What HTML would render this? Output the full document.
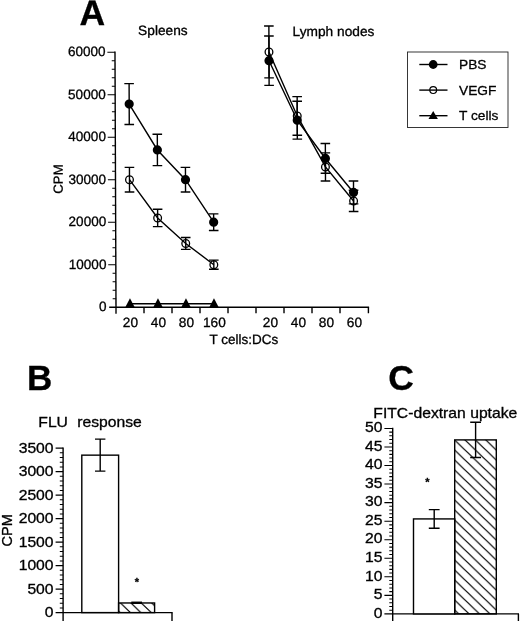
<!DOCTYPE html>
<html><head><meta charset="utf-8"><title>Figure</title>
<style>html,body{margin:0;padding:0;background:#fff;overflow:hidden;}svg{display:block;position:absolute;left:0;top:0;will-change:transform;filter:grayscale(1);}text{font-family:"Liberation Sans",sans-serif;fill:#000;stroke:#000;stroke-width:0.3px;}</style></head><body>
<svg width="520" height="621" viewBox="0 0 520 621">
<rect width="520" height="621" fill="#fff"/>
<defs>
<pattern id="h" patternUnits="userSpaceOnUse" width="10.4" height="10" patternTransform="translate(454.7 440.1)"><path d="M-10.4 -10L20.8 20M0 -10L20.8 10M-10.4 0L10.4 20" stroke="#000" stroke-width="1.15" fill="none"/></pattern>
<pattern id="h2" patternUnits="userSpaceOnUse" width="10.4" height="10" patternTransform="translate(120.5 603)"><path d="M-10.4 -10L20.8 20M0 -10L20.8 10M-10.4 0L10.4 20" stroke="#000" stroke-width="1.15" fill="none"/></pattern>
</defs>
<g transform="translate(-1.23 0) skewX(0.229)">
<g stroke="#000" stroke-width="1.4" fill="none">
<path d="M116 51.6V313.7"/>
<path d="M109.2 307.2H369.1"/>
<path d="M144 307.2v6.1M172 307.2v6.1M200 307.2v6.1M228 307.2v6.1M256 307.2v6.1M284 307.2v6.1M312 307.2v6.1M340 307.2v6.1M368.4 307.2v6.1"/>
<path d="M116 298.7h-3.3M116 290.2h-3.3M116 281.7h-3.3M116 273.2h-3.3M116 264.7h-7.6M116 256.2h-3.3M116 247.7h-3.3M116 239.2h-3.3M116 230.7h-3.3M116 222.2h-7.6M116 213.7h-3.3M116 205.2h-3.3M116 196.7h-3.3M116 188.2h-3.3M116 179.7h-7.6M116 171.2h-3.3M116 162.7h-3.3M116 154.2h-3.3M116 145.7h-3.3M116 137.2h-7.6M116 128.7h-3.3M116 120.2h-3.3M116 111.7h-3.3M116 103.2h-3.3M116 94.7h-7.6M116 86.2h-3.3M116 77.7h-3.3M116 69.2h-3.3M116 60.7h-3.3M116 52.2h-7.6" stroke-width="1.05"/>
</g>
<text transform="translate(106.6 311.4) scale(1.005 1)" font-size="13.5" text-anchor="end">0</text>
<text transform="translate(106.6 268.9) scale(1.005 1)" font-size="13.5" text-anchor="end">10000</text>
<text transform="translate(106.6 226.4) scale(1.005 1)" font-size="13.5" text-anchor="end">20000</text>
<text transform="translate(106.6 183.9) scale(1.005 1)" font-size="13.5" text-anchor="end">30000</text>
<text transform="translate(106.6 141.4) scale(1.005 1)" font-size="13.5" text-anchor="end">40000</text>
<text transform="translate(106.6 98.9) scale(1.005 1)" font-size="13.5" text-anchor="end">50000</text>
<text transform="translate(106.6 56.4) scale(1.005 1)" font-size="13.5" text-anchor="end">60000</text>
<text transform="translate(130.3 327.1) scale(1.017 1)" font-size="13.5" text-anchor="middle">20</text>
<text transform="translate(158.3 327.1) scale(1.017 1)" font-size="13.5" text-anchor="middle">40</text>
<text transform="translate(186.3 327.1) scale(1.017 1)" font-size="13.5" text-anchor="middle">80</text>
<text transform="translate(214.3 327.1) scale(1.017 1)" font-size="13.5" text-anchor="middle">160</text>
<text transform="translate(270.3 327.1) scale(1.017 1)" font-size="13.5" text-anchor="middle">20</text>
<text transform="translate(298.3 327.1) scale(1.017 1)" font-size="13.5" text-anchor="middle">40</text>
<text transform="translate(326.3 327.1) scale(1.017 1)" font-size="13.5" text-anchor="middle">80</text>
<text transform="translate(354.3 327.1) scale(1.017 1)" font-size="13.5" text-anchor="middle">60</text>
<text transform="translate(209.4 343.6)" font-size="13.5">T cells:DCs</text>
<text transform="translate(63.2 179) rotate(-90)" font-size="13.2" text-anchor="middle">CPM</text>
<text transform="translate(139.2 35.4) scale(1.017 1)" font-size="13.5">Spleens</text>
<text transform="translate(293.6 35.6) scale(1.017 1)" font-size="13.5">Lymph nodes</text>
<text transform="translate(80.7 24.6)" font-size="35.5" font-weight="bold">A</text>
<path d="M130 167.37V192.02M125.2 167.37h9.6M125.2 192.02h9.6M158 209.24V226.66M153.2 209.24h9.6M153.2 226.66h9.6M186 237.5V249.4M181.2 237.5h9.6M181.2 249.4h9.6M214 260.11V269.29M209.2 260.11h9.6M209.2 269.29h9.6M270 26.06V77.91M265.2 26.06h9.6M265.2 77.91h9.6M298 96.61V135.29M293.2 96.61h9.6M293.2 135.29h9.6M326 152.92V180.97M321.2 152.92h9.6M321.2 180.97h9.6M354 190.32V211.57M349.2 190.32h9.6M349.2 211.57h9.6" stroke="#000" stroke-width="1.4" fill="none"/>
<path d="M130 179.7L158 217.95L186 243.45L214 264.7" stroke="#000" stroke-width="1.4" fill="none"/>
<path d="M270 51.99L298 115.95L326 166.95L354 200.95" stroke="#000" stroke-width="1.4" fill="none"/>
<circle cx="130" cy="179.7" r="3.85" fill="none" stroke="#000" stroke-width="1.3"/>
<circle cx="158" cy="217.95" r="3.85" fill="none" stroke="#000" stroke-width="1.3"/>
<circle cx="186" cy="243.45" r="3.85" fill="none" stroke="#000" stroke-width="1.3"/>
<circle cx="214" cy="264.7" r="3.85" fill="none" stroke="#000" stroke-width="1.3"/>
<circle cx="270" cy="51.99" r="3.85" fill="none" stroke="#000" stroke-width="1.3"/>
<circle cx="298" cy="115.95" r="3.85" fill="none" stroke="#000" stroke-width="1.3"/>
<circle cx="326" cy="166.95" r="3.85" fill="none" stroke="#000" stroke-width="1.3"/>
<circle cx="354" cy="200.95" r="3.85" fill="none" stroke="#000" stroke-width="1.3"/>
<path d="M130 83.65V124.45M125.2 83.65h9.6M125.2 124.45h9.6M158 134.22V165.67M153.2 134.22h9.6M153.2 165.67h9.6M186 167.37V192.02M181.2 167.37h9.6M181.2 192.02h9.6M214 213.91V230.49M209.2 213.91h9.6M209.2 230.49h9.6M270 36.05V85.35M265.2 36.05h9.6M265.2 85.35h9.6M298 101.29V139.11M293.2 101.29h9.6M293.2 139.11h9.6M326 143.57V173.32M321.2 143.57h9.6M321.2 173.32h9.6M354 180.97V203.92M349.2 180.97h9.6M349.2 203.92h9.6" stroke="#000" stroke-width="1.4" fill="none"/>
<path d="M130 104.05L158 149.95L186 179.7L214 222.2" stroke="#000" stroke-width="1.4" fill="none"/>
<path d="M270 60.7L298 120.2L326 158.45L354 192.45" stroke="#000" stroke-width="1.4" fill="none"/>
<circle cx="130" cy="104.05" r="4.6" fill="#000"/>
<circle cx="158" cy="149.95" r="4.6" fill="#000"/>
<circle cx="186" cy="179.7" r="4.6" fill="#000"/>
<circle cx="214" cy="222.2" r="4.6" fill="#000"/>
<circle cx="270" cy="60.7" r="4.6" fill="#000"/>
<circle cx="298" cy="120.2" r="4.6" fill="#000"/>
<circle cx="326" cy="158.45" r="4.6" fill="#000"/>
<circle cx="354" cy="192.45" r="4.6" fill="#000"/>
<path d="M130 303.7H214" stroke="#000" stroke-width="1.4"/>
<path d="M130 298.3L134.7 307.3L125.3 307.3Z" fill="#000"/>
<path d="M158 298.3L162.7 307.3L153.3 307.3Z" fill="#000"/>
<path d="M186 298.3L190.7 307.3L181.3 307.3Z" fill="#000"/>
<path d="M214 298.3L218.7 307.3L209.3 307.3Z" fill="#000"/>
</g>
<rect x="407.5" y="52" width="100.5" height="75.5" fill="#fff" stroke="#222" stroke-width="0.9"/>
<path d="M419.3 64.5H447.5" stroke="#000" stroke-width="1.4"/>
<circle cx="433.2" cy="64.5" r="4.4" fill="#000"/>
<text transform="translate(459 68.9) scale(1.017 1)" font-size="13.5">PBS</text>
<path d="M419.3 90.1H447.5" stroke="#000" stroke-width="1.4"/>
<circle cx="433.2" cy="90.1" r="3.4" fill="none" stroke="#000" stroke-width="1.2"/>
<text transform="translate(459 94.5) scale(1.017 1)" font-size="13.5">VEGF</text>
<path d="M419.3 115.7H447.5" stroke="#000" stroke-width="1.4"/>
<path d="M433.2 111L437.9 119L428.5 119Z" fill="#000"/>
<text transform="translate(459 120.1) scale(1.017 1)" font-size="13.5">T cells</text>
<g stroke="#000" stroke-width="1.4" fill="none">
<path d="M63.1 447.5V621"/>
<path d="M55.6 612.6H172.6"/>
<path d="M172 612.6V621"/>
<path d="M63.1 607.9h-3.3M63.1 603.2h-3.3M63.1 598.5h-3.3M63.1 593.8h-3.3M63.1 589.1h-7.5M63.1 584.4h-3.3M63.1 579.7h-3.3M63.1 575h-3.3M63.1 570.3h-3.3M63.1 565.6h-7.5M63.1 560.9h-3.3M63.1 556.2h-3.3M63.1 551.5h-3.3M63.1 546.8h-3.3M63.1 542.1h-7.5M63.1 537.4h-3.3M63.1 532.7h-3.3M63.1 528h-3.3M63.1 523.3h-3.3M63.1 518.6h-7.5M63.1 513.9h-3.3M63.1 509.2h-3.3M63.1 504.5h-3.3M63.1 499.8h-3.3M63.1 495.1h-7.5M63.1 490.4h-3.3M63.1 485.7h-3.3M63.1 481h-3.3M63.1 476.3h-3.3M63.1 471.6h-7.5M63.1 466.9h-3.3M63.1 462.2h-3.3M63.1 457.5h-3.3M63.1 452.8h-3.3M63.1 448.1h-7.5" stroke-width="1.05"/>
<rect x="81.8" y="455.15" width="36.8" height="157.45" fill="#fff"/>
<rect x="118.6" y="602.97" width="36" height="9.63" fill="url(#h2)"/>
<path d="M100.2 439.17V471.13M95 439.17h10.4M95 471.13h10.4"/>
<path d="M131.3 602.76H142" stroke-width="2.4"/>
</g>
<text transform="translate(53.6 617.4) scale(1.106 1)" font-size="14.2" text-anchor="end">0</text>
<text transform="translate(53.6 593.9) scale(1.106 1)" font-size="14.2" text-anchor="end">500</text>
<text transform="translate(53.6 570.4) scale(1.106 1)" font-size="14.2" text-anchor="end">1000</text>
<text transform="translate(53.6 546.9) scale(1.106 1)" font-size="14.2" text-anchor="end">1500</text>
<text transform="translate(53.6 523.4) scale(1.106 1)" font-size="14.2" text-anchor="end">2000</text>
<text transform="translate(53.6 499.9) scale(1.106 1)" font-size="14.2" text-anchor="end">2500</text>
<text transform="translate(53.6 476.4) scale(1.106 1)" font-size="14.2" text-anchor="end">3000</text>
<text transform="translate(53.6 452.9) scale(1.106 1)" font-size="14.2" text-anchor="end">3500</text>
<text transform="translate(12.4 530.4) rotate(-90)" font-size="14.6" text-anchor="middle">CPM</text>
<text transform="translate(38.3 426.7) scale(1.106 1)" font-size="14.2">FLU</text>
<text transform="translate(77.2 426.7) scale(1.106 1)" font-size="14.2">response</text>
<text transform="translate(26.9 390.1)" font-size="35" font-weight="bold">B</text>
<text transform="translate(137 586)" font-size="11" text-anchor="middle" font-weight="bold">*</text>
<g stroke="#000" stroke-width="1.4" fill="none">
<path d="M392.7 427.8V621"/>
<path d="M384.4 613.9H519"/>
<path d="M518.4 613.9V621"/>
<path d="M392.7 610.19h-3.4M392.7 606.48h-3.4M392.7 602.77h-3.4M392.7 599.06h-3.4M392.7 595.35h-8.3M392.7 591.64h-3.4M392.7 587.93h-3.4M392.7 584.22h-3.4M392.7 580.51h-3.4M392.7 576.8h-8.3M392.7 573.09h-3.4M392.7 569.38h-3.4M392.7 565.67h-3.4M392.7 561.96h-3.4M392.7 558.25h-8.3M392.7 554.54h-3.4M392.7 550.83h-3.4M392.7 547.12h-3.4M392.7 543.41h-3.4M392.7 539.7h-8.3M392.7 535.99h-3.4M392.7 532.28h-3.4M392.7 528.57h-3.4M392.7 524.86h-3.4M392.7 521.15h-8.3M392.7 517.44h-3.4M392.7 513.73h-3.4M392.7 510.02h-3.4M392.7 506.31h-3.4M392.7 502.6h-8.3M392.7 498.89h-3.4M392.7 495.18h-3.4M392.7 491.47h-3.4M392.7 487.76h-3.4M392.7 484.05h-8.3M392.7 480.34h-3.4M392.7 476.63h-3.4M392.7 472.92h-3.4M392.7 469.21h-3.4M392.7 465.5h-8.3M392.7 461.79h-3.4M392.7 458.08h-3.4M392.7 454.37h-3.4M392.7 450.66h-3.4M392.7 446.95h-8.3M392.7 443.24h-3.4M392.7 439.53h-3.4M392.7 435.82h-3.4M392.7 432.11h-3.4M392.7 428.4h-8.3" stroke-width="1.05"/>
<rect x="413.5" y="518.92" width="41.2" height="94.98" fill="#fff"/>
<rect x="454.7" y="439.9" width="41.6" height="174" fill="url(#h)"/>
<path d="M434.2 509.65V528.2M428.8 509.65h10.8M428.8 528.2h10.8"/>
<path d="M475.6 422.28V457.52M470.2 422.28h10.8M470.2 457.52h10.8"/>
</g>
<text transform="translate(382.4 617.6) scale(1.106 1)" font-size="14.2" text-anchor="end">0</text>
<text transform="translate(382.4 599.05) scale(1.106 1)" font-size="14.2" text-anchor="end">5</text>
<text transform="translate(382.4 580.5) scale(1.106 1)" font-size="14.2" text-anchor="end">10</text>
<text transform="translate(382.4 561.95) scale(1.106 1)" font-size="14.2" text-anchor="end">15</text>
<text transform="translate(382.4 543.4) scale(1.106 1)" font-size="14.2" text-anchor="end">20</text>
<text transform="translate(382.4 524.85) scale(1.106 1)" font-size="14.2" text-anchor="end">25</text>
<text transform="translate(382.4 506.3) scale(1.106 1)" font-size="14.2" text-anchor="end">30</text>
<text transform="translate(382.4 487.75) scale(1.106 1)" font-size="14.2" text-anchor="end">35</text>
<text transform="translate(382.4 469.2) scale(1.106 1)" font-size="14.2" text-anchor="end">40</text>
<text transform="translate(382.4 450.65) scale(1.106 1)" font-size="14.2" text-anchor="end">45</text>
<text transform="translate(382.4 432.1) scale(1.106 1)" font-size="14.2" text-anchor="end">50</text>
<text transform="translate(373.3 417.9) scale(1.106 1)" font-size="14.2">FITC-dextran uptake</text>
<text transform="translate(388.3 390)" font-size="35.5" font-weight="bold">C</text>
<text transform="translate(427.5 486.2)" font-size="11" text-anchor="middle" font-weight="bold">*</text>
</svg></body></html>
